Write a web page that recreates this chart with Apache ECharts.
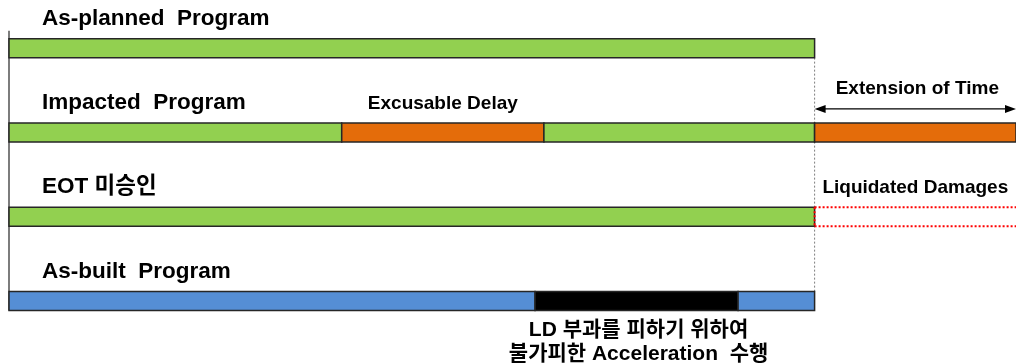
<!DOCTYPE html>
<html><head><meta charset="utf-8">
<script src="https://cdn.jsdelivr.net/npm/echarts@6/dist/echarts.min.js"></script>
<style>html,body{margin:0;padding:0;background:#fff}#c{width:1016px;height:364px}</style>
</head><body><div id="c"></div>
<script>
// ---- data ----
const rows = ['As-planned  Program', 'Impacted  Program', 'EOT 미승인', 'As-built  Program'];
// segments: [start, end, kind]
const asPlanned   = [[0, 100, 'plan']];
const impacted    = [[0, 41.3, 'plan'], [41.3, 66.4, 'delay'], [66.4, 100, 'plan'], [100, 125, 'delay']];
const eotRejected = [[0, 100, 'plan'], [100, 125, 'ld']];
const asBuilt     = [[0, 65.3, 'built'], [65.3, 90.5, 'accel'], [90.5, 100, 'built']];
const plannedFinish = 100;
const axisMax = 125;
// notes: [row, start, end, text, placement]
const notes = [
  [1, 41.3, 66.4, 'Excusable Delay', 'above'],
  [1, 100, 125, 'Extension of Time', 'arrow'],
  [2, 100, 125, 'Liquidated Damages', 'above'],
  [3, 65.3, 90.5, 'LD 부과를 피하기 위하여\n불가피한 Acceleration  수행', 'below']
];

// ---- build ----
const rowSegs = [asPlanned, impacted, eotRejected, asBuilt];
const segData = [], segKinds = [];
rowSegs.forEach((segs, r) => segs.forEach(s => { segData.push([r, s[0], s[1]]); segKinds.push(s[2]); }));
const fills = { plan: '#92D050', delay: '#E46C0A', built: '#558ED5', accel: '#000000' };
const FONT = "'Liberation Sans', Arial, 'Noto Sans CJK KR', sans-serif";
const BAR_H = 19;

function renderSeg(params, api) {
  const r = api.value(0), s = api.value(1), e = api.value(2);
  const kind = segKinds[params.dataIndex];
  const p0 = api.coord([s, r]), p1 = api.coord([e, r]);
  const x = p0[0], y = p0[1] - BAR_H / 2, w = p1[0] - p0[0];
  if (kind === 'ld') {
    const st = { stroke: '#FF0000', lineWidth: 2, lineDash: [2, 2] };
    return { type: 'group', children: [
      { type: 'line', shape: { x1: x, y1: y, x2: x + w, y2: y }, style: st },
      { type: 'line', shape: { x1: x, y1: y + BAR_H, x2: x + w, y2: y + BAR_H }, style: st },
      { type: 'line', shape: { x1: x, y1: y, x2: x, y2: y + BAR_H }, style: st }
    ]};
  }
  return { type: 'rect', shape: { x: x, y: y, width: w, height: BAR_H },
    style: { fill: fills[kind], stroke: '#262626', lineWidth: 1.5 } };
}

function renderTitle(params, api) {
  const p = api.coord([0, params.dataIndex]);
  return { type: 'text', style: { text: rows[params.dataIndex], x: p[0] + 33, y: p[1] - BAR_H / 2 - 20,
    font: 'bold 22.5px ' + FONT, fill: '#000', align: 'left', verticalAlign: 'middle' } };
}

function renderNote(params, api) {
  const n = notes[params.dataIndex];
  const p0 = api.coord([n[1], n[0]]), p1 = api.coord([n[2], n[0]]);
  const cx = (p0[0] + p1[0]) / 2, top = p0[1] - BAR_H / 2, bot = p0[1] + BAR_H / 2;
  const font = 'bold 19px ' + FONT;
  if (n[4] === 'above') {
    return { type: 'text', style: { text: n[3], x: cx, y: top - 19, font: font, fill: '#000', align: 'center', verticalAlign: 'middle' } };
  }
  if (n[4] === 'below') {
    return { type: 'text', style: { text: n[3], x: cx + 2, y: bot + 8, font: 'bold 21px ' + FONT, lineHeight: 24, fill: '#000', align: 'center', verticalAlign: 'top' } };
  }
  const ay = top - 14, x0 = p0[0], x1 = p1[0];
  return { type: 'group', children: [
    { type: 'text', style: { text: n[3], x: cx + 2, y: top - 34, font: font, fill: '#000', align: 'center', verticalAlign: 'middle' } },
    { type: 'line', shape: { x1: x0 + 4, y1: ay, x2: x1 - 4, y2: ay }, style: { stroke: '#000', lineWidth: 1.2 } },
    { type: 'polygon', shape: { points: [[x0, ay], [x0 + 11, ay - 4], [x0 + 11, ay + 4]] }, style: { fill: '#000' } },
    { type: 'polygon', shape: { points: [[x1, ay], [x1 - 11, ay - 4], [x1 - 11, ay + 4]] }, style: { fill: '#000' } }
  ]};
}

function renderGuides(params, api) {
  const a = api.coord([0, 0]), d = api.coord([0, rows.length - 1]);
  const f0 = api.coord([plannedFinish, 0]), f3 = api.coord([plannedFinish, rows.length - 1]);
  return { type: 'group', children: [
    { type: 'line', shape: { x1: a[0], y1: a[1] - BAR_H / 2 - 8, x2: d[0], y2: d[1] + BAR_H / 2 }, style: { stroke: '#262626', lineWidth: 1.2 } },
    { type: 'line', shape: { x1: f0[0], y1: f0[1] + BAR_H / 2, x2: f3[0], y2: f3[1] - BAR_H / 2 }, style: { stroke: '#7F7F7F', lineWidth: 1, lineDash: [2, 2] } }
  ]};
}

const chart = echarts.init(document.getElementById('c'), null, { renderer: 'canvas' });
chart.setOption({
  animation: false,
  grid: { left: 9, right: 0, top: 6, bottom: 21 },
  xAxis: { type: 'value', min: 0, max: axisMax, show: false },
  yAxis: { type: 'category', data: rows, inverse: true, show: false },
  series: [
    { type: 'custom', renderItem: renderGuides, data: [[0, 0]], encode: { x: 0, y: 1 }, z: 1 },
    { type: 'custom', renderItem: renderSeg, data: segData, encode: { x: [1, 2], y: 0 }, z: 2 },
    { type: 'custom', renderItem: renderTitle, data: rows.map((r, i) => [0, i]), encode: { x: 0, y: 1 }, z: 3 },
    { type: 'custom', renderItem: renderNote, data: notes.map(n => [n[1], n[0]]), encode: { x: 0, y: 1 }, z: 3 }
  ]
});
</script></body></html>
